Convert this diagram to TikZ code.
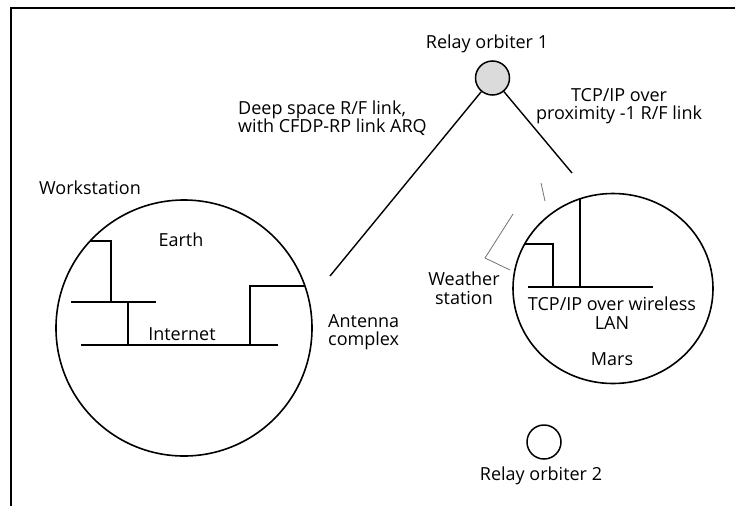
\documentclass[tikz,border=0pt]{standalone}
\usepackage{fontspec}
\setmainfont{Open Sans}
\usetikzlibrary{shapes.geometric}
\begin{document}
\begin{tikzpicture}[x=1pt,y=-1pt,
  lbl/.style={font=\fontsize{18}{18.5}\selectfont, inner sep=0pt, align=center},
  lbll/.style={lbl, align=left, anchor=west},
  body/.style={draw, line width=1.6pt, inner sep=0pt},
  thinline/.style={line width=1.3pt},
  bus/.style={line width=2.8pt},
  orb/.style={circle, draw, line width=1.5pt, minimum size=34pt, inner sep=0pt},
  link/.style={line width=1.4pt},
  faint/.style={black!55, line width=0.8pt},
  frame/.style={line width=1.3pt}]
\useasboundingbox (0,0) rectangle (735,506);
% frame
\coordinate (fbl) at (11,506);
\coordinate (ftl) at (11,8);
\coordinate (ftr) at (735,8);
\draw[frame] (fbl) -- (ftl) -- (ftr);

% bodies
\node[body, circle, minimum size=256pt] (earth) at (184,328) {};
\node[body, ellipse, minimum width=200pt, minimum height=190pt] (mars) at (613,288.5) {};
\node[orb, fill=black!14] (r1) at (492.5,78) {};
\node[orb] (r2) at (544,442) {};

% Earth network
\draw[thinline] (90,241) -- (111,241) -- (111,302);
\draw[thinline] (71,302) -- (156,302);
\draw[thinline] (128,302) -- (128,345);
\draw[bus] (81,345) -- (278,345);
\draw[thinline] (250,345) -- (250,286) -- (305,286);

% Mars network
\draw[bus] (528,287) -- (653,287);
\draw[thinline] (580,287) -- (580,199);
\draw[thinline] (525,244) -- (553,244) -- (553,287);

% weather station (faint)
\draw[faint] (541,183) -- (545,201);
\draw[faint] (513,214) -- (485,258) -- (510,270);

% links
\coordinate (antEnd) at (330,276);
\coordinate (marsEnd) at (572,173);
\draw[link] (r1) -- (antEnd);
\draw[link] (r1) -- (marsEnd);

% labels
\node[lbl] (ws) at (90,188) {Workstation};
\node[lbl] (earthlbl) at (181,240) {Earth};
\node[lbl] (inet) at (182,334) {Internet};
\node[lbll] (ant) at (328,332) {Antenna\\complex};
\node[lbll] (deep) at (238,118) {Deep space R/F link,\\with CFDP-RP link ARQ};
\node[lbl] (prox) at (619,106) {TCP/IP over\\proximity -1 R/F link};
\node[lbl] (r1lbl) at (487,44) {Relay orbiter 1};
\node[lbl] (wst) at (464,288) {Weather\\station};
\node[lbl] (wlan) at (612,313) {TCP/IP over wireless\\LAN};
\node[lbl] (marslbl) at (612,359) {Mars};
\node[lbl] (r2lbl) at (541,476) {Relay orbiter 2};
\end{tikzpicture}
\end{document}
